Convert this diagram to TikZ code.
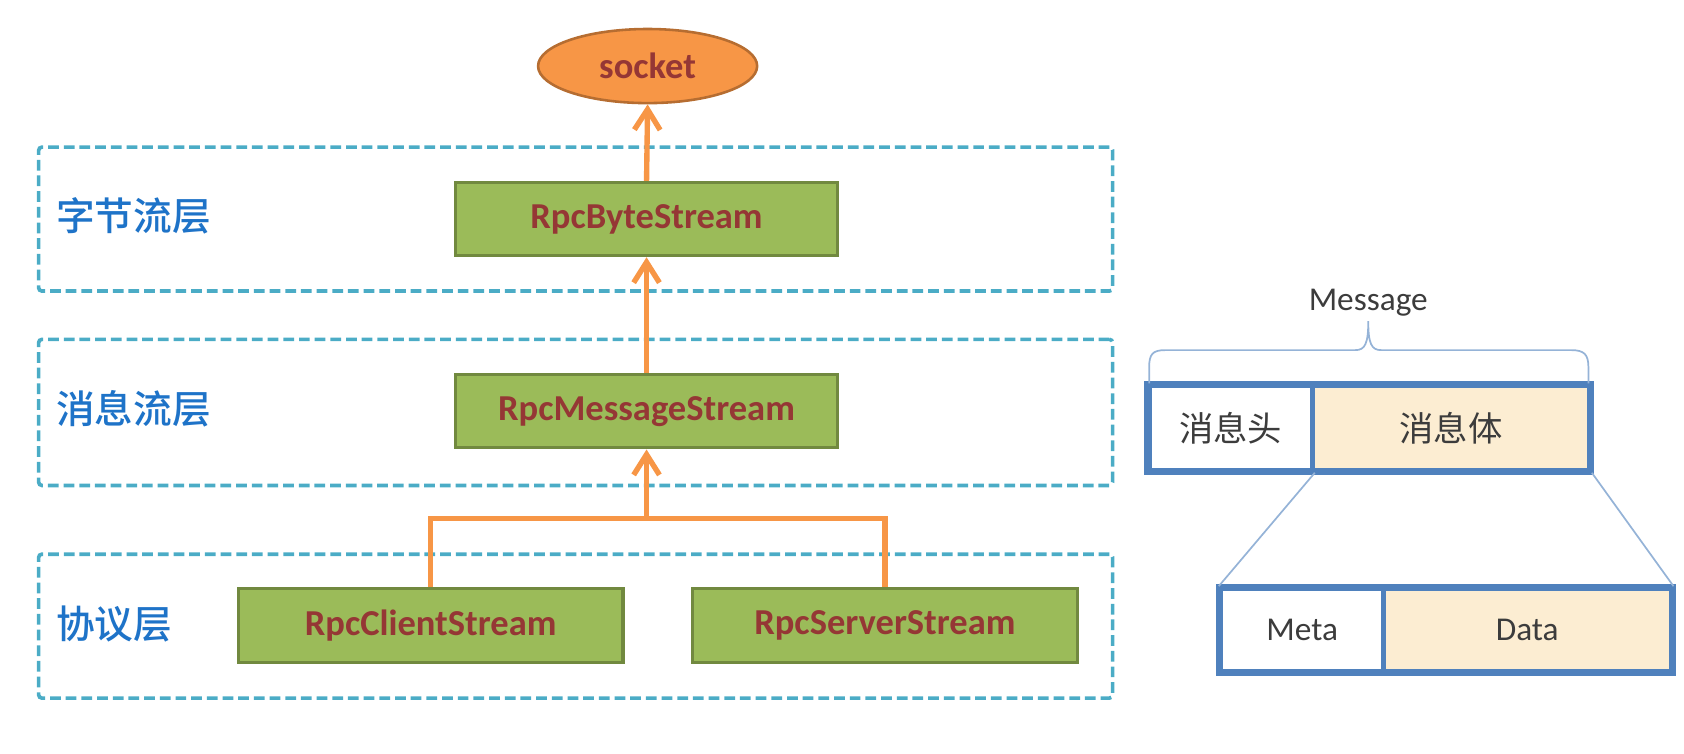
\documentclass[tikz,border=0pt]{standalone}
\usepackage{fontspec}
\setmainfont{Carlito}
\newfontfamily\cjk{Noto Sans CJK SC}
\newfontfamily\cjkm{Noto Sans CJK SC Medium}
\usetikzlibrary{arrows.meta,shapes.geometric}
\definecolor{dashblue}{RGB}{75,172,198}
\definecolor{gfill}{RGB}{155,187,89}
\definecolor{gdraw}{RGB}{113,137,63}
\definecolor{dred}{RGB}{149,55,53}
\definecolor{orng}{RGB}{247,150,70}
\definecolor{orngd}{RGB}{182,109,49}
\definecolor{lblue}{RGB}{30,115,200}
\definecolor{mblue}{RGB}{79,129,189}
\definecolor{beige}{RGB}{252,237,210}
\definecolor{brc}{RGB}{149,179,215}
\definecolor{tgray}{RGB}{60,60,60}
\tikzset{
  layerbox/.style={draw=dashblue, line width=1.7pt, dash pattern=on 5pt off 2.3pt, rounded corners=1.5pt, minimum width=500pt, inner sep=0pt},
  layerlabel/.style={anchor=west, text=lblue, font=\cjkm\fontsize{18}{20}\selectfont, inner sep=0pt},
  stream/.style={draw=gdraw, fill=gfill, line width=1.5pt, minimum width=178pt, minimum height=34pt, inner sep=0pt, text=dred, font=\bfseries\fontsize{17}{20}\selectfont},
  sockstyle/.style={ellipse, draw=orngd, fill=orng, line width=1.2pt, minimum width=102pt, minimum height=34.5pt, inner sep=0pt, text=dred, font=\bfseries\fontsize{17}{20}\selectfont},
  arr/.style={draw=orng, line width=2.5pt, -{Straight Barb[length=9.5pt,width=12pt]}},
  conn/.style={draw=orng, line width=2.5pt},
  cell/.style={draw=mblue, line width=2.2pt, inner sep=0pt, text=tgray},
  cjkcell/.style={cell, font=\cjk\fontsize{16}{18}\selectfont},
  latcell/.style={cell, font=\fontsize{15.5}{18}\selectfont},
  thinblue/.style={draw=brc, line width=0.8pt}
}
\begin{document}
\begin{tikzpicture}[x=0.5pt,y=-0.5pt]
\useasboundingbox (0,0) rectangle (1568,702);
% layer boxes
\node[layerbox, minimum height=67pt] (l1) at (536,204) {};
\node[layerbox, minimum height=68pt] (l2) at (536,384) {};
\node[layerbox, minimum height=67pt] (l3) at (536,583) {};
\node[layerlabel] (t1) at (52,201) {字节流层};
\node[layerlabel] (t2) at (52,381) {消息流层};
\node[layerlabel] (t3) at (52,581) {协议层};
% nodes
\node[sockstyle] (sock) at (603,61.5) {socket};
\node[stream] (byte) at (602,204) {RpcByteStream};
\node[stream] (msg) at (602,383) {RpcMessageStream};
\node[stream, minimum width=179pt, minimum height=34.5pt] (cli) at (401,582.5) {RpcClientStream};
\node[stream, minimum width=179pt, minimum height=34.5pt] (srv) at (824,582.5) {RpcServerStream};
% connectors
\coordinate (j) at (602,483);
\draw[conn] (cli.north) |- (j) -| (srv.north);
\draw[arr] (j) -- (msg.south);
\draw[arr] (msg.north) -- (byte.south);
\draw[arr] (byte.north) -- (sock.south);
% message structure
\node[cjkcell, minimum width=76pt, minimum height=39.5pt] (head) at (1146,398.5) {消息头};
\node[cjkcell, fill=beige, minimum width=129pt, minimum height=39.5pt] (body) at (1351,398.5) {消息体};
\node[latcell, minimum width=75.5pt, minimum height=38.5pt] (meta) at (1212.5,586.5) {Meta};
\node[latcell, fill=beige, minimum width=134pt, minimum height=38.5pt] (data) at (1422,586.5) {Data};
\draw[cell, fill=none] (head.north west) rectangle (body.south east);
\draw[cell, fill=none] (meta.north west) rectangle (data.south east);
\node[text=tgray, font=\fontsize{15.5}{18}\selectfont, inner sep=0pt] (mlabel) at (1274,282) {Message};
\draw[thinblue] (1070,357) -- (1070,342) .. controls (1070,330) and (1073,326) .. (1085,326)
  -- (1262,326) .. controls (1271,326) and (1274,320) .. (1274,299)
  .. controls (1274,320) and (1277,326) .. (1286,326)
  -- (1463,326) .. controls (1475,326) and (1479,330) .. (1479,342) -- (1479,357);
\draw[thinblue] (head.south east) -- (meta.north west);
\draw[thinblue] (body.south east) -- (data.north east);
\end{tikzpicture}
\end{document}
